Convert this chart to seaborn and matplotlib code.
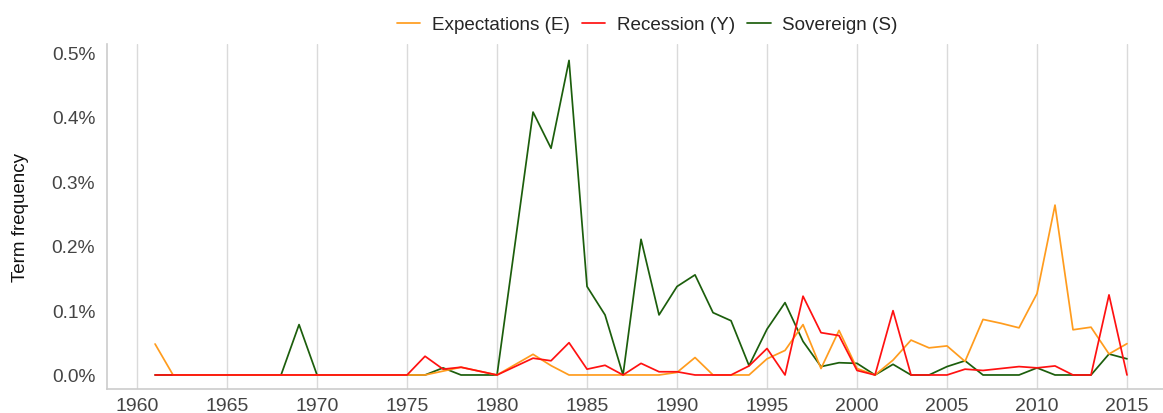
import numpy as np
import pandas as pd
import matplotlib
matplotlib.use("Agg")
import matplotlib.pyplot as plt
import seaborn as sns
from matplotlib.ticker import FuncFormatter

years = list(range(1961, 2016))

expectations = [0.048] + [0.0] * 15 + [0.006, 0.012, 0.006, 0.0,
    0.016, 0.032, 0.0145, 0.0, 0.0, 0.0, 0.0, 0.0, 0.0, 0.004,
    0.027, 0.0, 0.0, 0.0, 0.025, 0.038, 0.078, 0.010, 0.069, 0.010,
    0.0, 0.023, 0.054, 0.042, 0.045, 0.021, 0.086, 0.080, 0.073, 0.126,
    0.263, 0.070, 0.074, 0.0325, 0.0485]

recession = [0.0] * 15 + [0.029, 0.009, 0.012, 0.006, 0.0,
    0.013, 0.026, 0.022, 0.050, 0.009, 0.015, 0.0, 0.018, 0.005, 0.005,
    0.0, 0.0, 0.0, 0.014, 0.041, 0.0, 0.122, 0.0655, 0.061, 0.007,
    0.0, 0.0996, 0.0, 0.0, 0.0, 0.009, 0.007, 0.010, 0.013, 0.011,
    0.014, 0.0, 0.0, 0.124, 0.0]

sovereign = [0.0] * 8 + [0.078] + [0.0] * 7 + [0.011, 0.0, 0.0, 0.0,
    0.203, 0.407, 0.351, 0.487, 0.137, 0.093, 0.0, 0.210, 0.093, 0.137,
    0.155, 0.0965, 0.084, 0.0145, 0.071, 0.112, 0.052, 0.013, 0.019, 0.018,
    0.0, 0.0165, 0.0, 0.0, 0.013, 0.022, 0.0, 0.0, 0.0, 0.011,
    0.0, 0.0, 0.0, 0.0325, 0.025]

labels = ["Expectations (E)", "Recession (Y)", "Sovereign (S)"]
colors = {"Expectations (E)": "#ff9c1e", "Recession (Y)": "#ff1111", "Sovereign (S)": "#1c5e0c"}
xticks = list(range(1960, 2016, 5))
yticks = [0.0, 0.1, 0.2, 0.3, 0.4, 0.5]

df = pd.DataFrame({
    "year": years * 3,
    "value": expectations + recession + sovereign,
    "series": [labels[0]] * len(years) + [labels[1]] * len(years) + [labels[2]] * len(years),
})

sns.set_theme(style="white")
plt.rcParams["font.family"] = ["Liberation Sans", "DejaVu Sans"]

fig = plt.figure(figsize=(11.63, 4.14), dpi=100)
ax = fig.add_axes([107 / 1163, 24 / 414, 1 - 107 / 1163, (390 - 45) / 414])

zorders = {"Sovereign (S)": 2, "Expectations (E)": 3, "Recession (Y)": 4}
for name in ["Sovereign (S)", "Expectations (E)", "Recession (Y)"]:
    sub = df[df["series"] == name]
    sns.lineplot(data=sub, x="year", y="value", color=colors[name], lw=1.25,
                 ax=ax, label=name, zorder=zorders[name])

ax.set_xlim(1958.33, 2017)
ax.set_ylim(-0.0217, 0.5124)
ax.set_xticks(xticks)
ax.set_yticks(yticks)
ax.yaxis.set_major_formatter(FuncFormatter(lambda v, p: f"{v:.1f}%"))
ax.tick_params(axis="x", labelsize=14, colors="#444444", length=0, pad=5.5)
ax.tick_params(axis="y", labelsize=13.8, colors="#444444", length=0, pad=8.5)
ax.set_xlabel("")
ax.set_ylabel("Term frequency", fontsize=13.5, color="#111111")
ax.yaxis.set_label_coords(-0.0738, 0.5)

ax.grid(axis="x", color="#dadada", lw=1)
ax.grid(axis="y", visible=False)
for s in ["top", "right"]:
    ax.spines[s].set_visible(False)
for s in ["left", "bottom"]:
    ax.spines[s].set_color("#cccccc")
    ax.spines[s].set_linewidth(1.2)

handles, labs = ax.get_legend_handles_labels()
order = [labs.index(l) for l in labels]
ax.legend([handles[i] for i in order], [labs[i] for i in order],
          loc="upper center", bbox_to_anchor=(647 / 1163, 1.0),
          bbox_transform=fig.transFigure, ncol=3, frameon=False,
          fontsize=13.6, handlelength=1.25, handletextpad=0.6, columnspacing=0.65)

fig.savefig("out.png", dpi=100)
